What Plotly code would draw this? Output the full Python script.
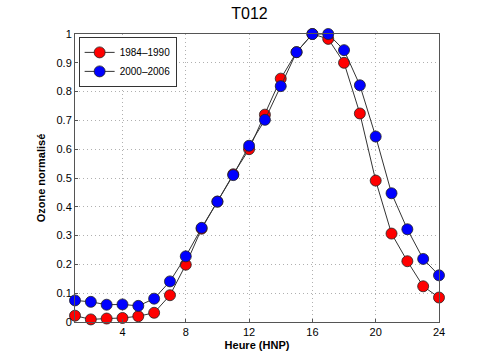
import plotly.graph_objects as go

hours = list(range(1, 25))
ozone_1984_1990 = [0.022, 0.009, 0.012, 0.014, 0.020, 0.032, 0.093, 0.199, 0.324, 0.418,
                   0.513, 0.600, 0.720, 0.845, 0.937, 1.000, 0.983, 0.900, 0.724, 0.491,
                   0.307, 0.211, 0.124, 0.085]
ozone_2000_2006 = [0.075, 0.070, 0.060, 0.061, 0.056, 0.081, 0.141, 0.228, 0.327, 0.418,
                   0.510, 0.612, 0.702, 0.819, 0.937, 1.000, 1.000, 0.944, 0.822, 0.644,
                   0.447, 0.322, 0.219, 0.162]
x_ticks = [4, 8, 12, 16, 20, 24]
y_ticks = [round(i * 0.1, 1) for i in range(11)]
y_tick_text = ["0", "0.1", "0.2", "0.3", "0.4", "0.5", "0.6", "0.7", "0.8", "0.9", "1"]

fig = go.Figure()
for name, vals, col in [("1984\u20131990", ozone_1984_1990, "#ff0000"),
                        ("2000\u20132006", ozone_2000_2006, "#0000ff")]:
    fig.add_trace(go.Scatter(
        x=hours, y=vals, name=name, mode="lines+markers",
        line=dict(color="#333333", width=1),
        marker=dict(color=col, size=11, line=dict(color="#222222", width=0.8)),
        cliponaxis=False,
    ))

font = "Liberation Sans, Arial, sans-serif"
fig.update_layout(
    width=499, height=356,
    margin=dict(l=75, r=60, t=34, b=34, autoexpand=False),
    paper_bgcolor="white", plot_bgcolor="white",
    font=dict(family=font, size=11, color="black"),
    title=dict(text="T012", x=0.5, xanchor="center", y=0.962, yanchor="middle",
               font=dict(size=16, family=font), automargin=False),
    showlegend=True,
    legend=dict(x=0.01, y=0.99, xanchor="left", yanchor="top",
                bgcolor="white", bordercolor="#333333", borderwidth=1,
                font=dict(size=10), tracegroupgap=0, itemwidth=30),
    xaxis=dict(range=[1, 24], tickvals=x_ticks, showgrid=True, automargin=False,
               gridcolor="#b0b0b0", griddash="1px,3px", gridwidth=1,
               showline=True, linecolor="#555555", linewidth=1, mirror=True,
               ticks="inside", ticklen=3, tickcolor="#555555",
               zeroline=False,
               title=dict(text="<b>Heure (HNP)</b>", standoff=4, font=dict(size=11))),
    yaxis=dict(range=[0, 1], tickvals=y_ticks, ticktext=y_tick_text, showgrid=True,
               automargin=False,
               gridcolor="#b0b0b0", griddash="1px,3px", gridwidth=1,
               showline=True, linecolor="#555555", linewidth=1, mirror=True,
               ticks="inside", ticklen=3, tickcolor="#555555",
               zeroline=False,
               title=dict(text="<b>Ozone normalisé</b>", standoff=8, font=dict(size=11))),
)

fig.write_html("out.html", config={"displayModeBar": False},
               post_script="document.body.style.margin='0';document.body.style.padding='0';")
